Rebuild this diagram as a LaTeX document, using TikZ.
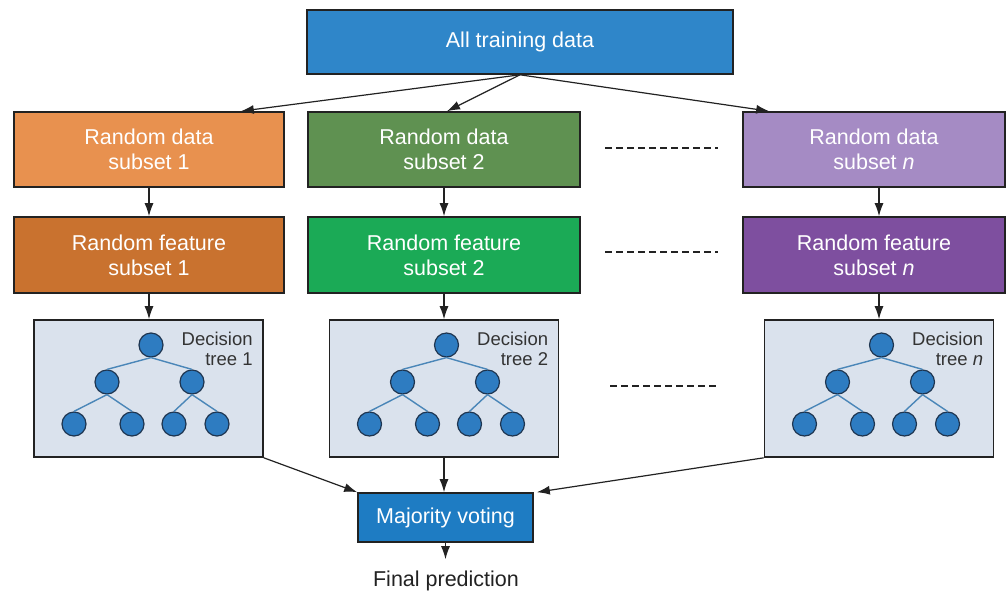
\documentclass[tikz,border=0pt]{standalone}
\usepackage{fontspec}
\setmainfont{Liberation Sans}
\usetikzlibrary{arrows.meta,calc}
\definecolor{topblue}{HTML}{2F86C9}
\definecolor{majblue}{HTML}{1E7CC3}
\definecolor{orA}{HTML}{E8914F}
\definecolor{orB}{HTML}{C9722F}
\definecolor{grA}{HTML}{5F9151}
\definecolor{grB}{HTML}{1BAA56}
\definecolor{puA}{HTML}{A58BC4}
\definecolor{puB}{HTML}{7E4F9F}
\definecolor{treefill}{HTML}{DAE2ED}
\definecolor{boxline}{HTML}{222222}
\definecolor{nodefill}{HTML}{2E7CC1}
\definecolor{nodeline}{HTML}{1E3550}
\definecolor{edgecol}{HTML}{4A86B8}
\definecolor{labelgray}{HTML}{333333}
\newcommand\mktree[3]{%
  \node[treebox] (#1) at (#2,388.5) {};
  \node[nd] (#1r)  at (#2+2.5,345) {};
  \node[nd] (#1a)  at (#2-41.5,382) {};
  \node[nd] (#1b)  at (#2+43.5,382) {};
  \node[nd] (#1aa) at (#2-74.5,424) {};
  \node[nd] (#1ab) at (#2-16.5,424) {};
  \node[nd] (#1ba) at (#2+25.5,424) {};
  \node[nd] (#1bb) at (#2+68.5,424) {};
  \draw[tedge] (#1r.south) -- (#1a.north);
  \draw[tedge] (#1r.south) -- (#1b.north);
  \draw[tedge] (#1a.south) -- (#1aa.north);
  \draw[tedge] (#1a.south) -- (#1ab.north);
  \draw[tedge] (#1b.south) -- (#1ba.north);
  \draw[tedge] (#1b.south) -- (#1bb.north);
  \node[lab] (#1lab) at ([xshift=-11pt,yshift=-13pt]#1.north east) {Decision\\tree #3};
}
\begin{document}
\begin{tikzpicture}[x=1pt,y=-1pt,
  box/.style={draw=boxline,line width=1.6pt,text=white,align=center,inner sep=0pt,
    font=\fontsize{21.5}{25}\selectfont},
  treebox/.style={draw=boxline,line width=1.6pt,fill=treefill,minimum width=229pt,minimum height=137pt,inner sep=0pt},
  nd/.style={circle,draw=nodeline,line width=1.2pt,fill=nodefill,minimum size=24pt,inner sep=0pt},
  tedge/.style={draw=edgecol,line width=1.4pt},
  lab/.style={anchor=north east,align=right,inner sep=0pt,text=labelgray,font=\fontsize{18.5}{20}\selectfont},
  arr/.style={-{Latex[length=13pt,width=9pt]},line width=1.2pt,draw=boxline},
  dots/.style={draw=boxline,line width=1.5pt,dash pattern=on 7pt off 4pt}]
\useasboundingbox (0,0) rectangle (1008,592);

\node[box,fill=topblue,minimum width=426pt,minimum height=64pt] (top) at (520,42) {All training data};

\node[box,fill=orA,minimum width=270pt,minimum height=75pt] (d1) at (149,149.5) {Random data\\subset 1};
\node[box,fill=grA,minimum width=272pt,minimum height=75pt] (d2) at (444,149.5) {Random data\\subset 2};
\node[box,fill=puA,minimum width=262pt,minimum height=75pt] (dn) at (874,149.5) {Random data\\subset \textit{n}};

\node[box,fill=orB,minimum width=270pt,minimum height=76pt] (f1) at (149,255) {Random feature\\subset 1};
\node[box,fill=grB,minimum width=272pt,minimum height=76pt] (f2) at (444,255) {Random feature\\subset 2};
\node[box,fill=puB,minimum width=262pt,minimum height=76pt] (fn) at (874,255) {Random feature\\subset \textit{n}};

\mktree{t1}{148.5}{1}
\mktree{t2}{444}{2}
\mktree{tn}{879}{\textit{n}}

\node[box,fill=majblue,minimum width=175pt,minimum height=49pt] (maj) at (445.5,517.5) {Majority voting};
\node[inner sep=0pt,anchor=base,text=boxline,font=\fontsize{21.5}{25}\selectfont] (fin) at (446,586) {Final prediction};

% arrows
\draw[arr] (top.south) -- ([xshift=-44pt]d1.north east);
\draw[arr] (top.south) -- ([xshift=3pt]d2.north);
\draw[arr] (top.south) -- ([xshift=27pt]dn.north west);

\draw[arr] (d1.south) -- (d1.south |- f1.north);
\draw[arr] (d2.south) -- (d2.south |- f2.north);
\draw[arr] ([xshift=5pt]dn.south) -- ([xshift=5pt]fn.north);

\draw[arr] (f1.south) -- (f1.south |- t1.north);
\draw[arr] (f2.south) -- (f2.south |- t2.north);
\draw[arr] ([xshift=5pt]fn.south) -- (tn.north);

\draw[arr] (t1.south east) -- (maj.north west);
\draw[arr] (t2.south) -- (t2.south |- maj.north);
\draw[arr] (tn.south west) -- ([xshift=3pt]maj.north east);
\draw[arr,shorten >=11pt] (maj.south) -- (maj.south |- fin.north);

% dashed ellipsis lines
\coordinate (e1a) at (605,148); \coordinate (e1b) at (718,148);
\coordinate (e2a) at (605,252); \coordinate (e2b) at (718,252);
\coordinate (e3a) at (610,386); \coordinate (e3b) at (718,386);
\draw[dots] (e1a) -- (e1b);
\draw[dots] (e2a) -- (e2b);
\draw[dots] (e3a) -- (e3b);
\end{tikzpicture}
\end{document}
